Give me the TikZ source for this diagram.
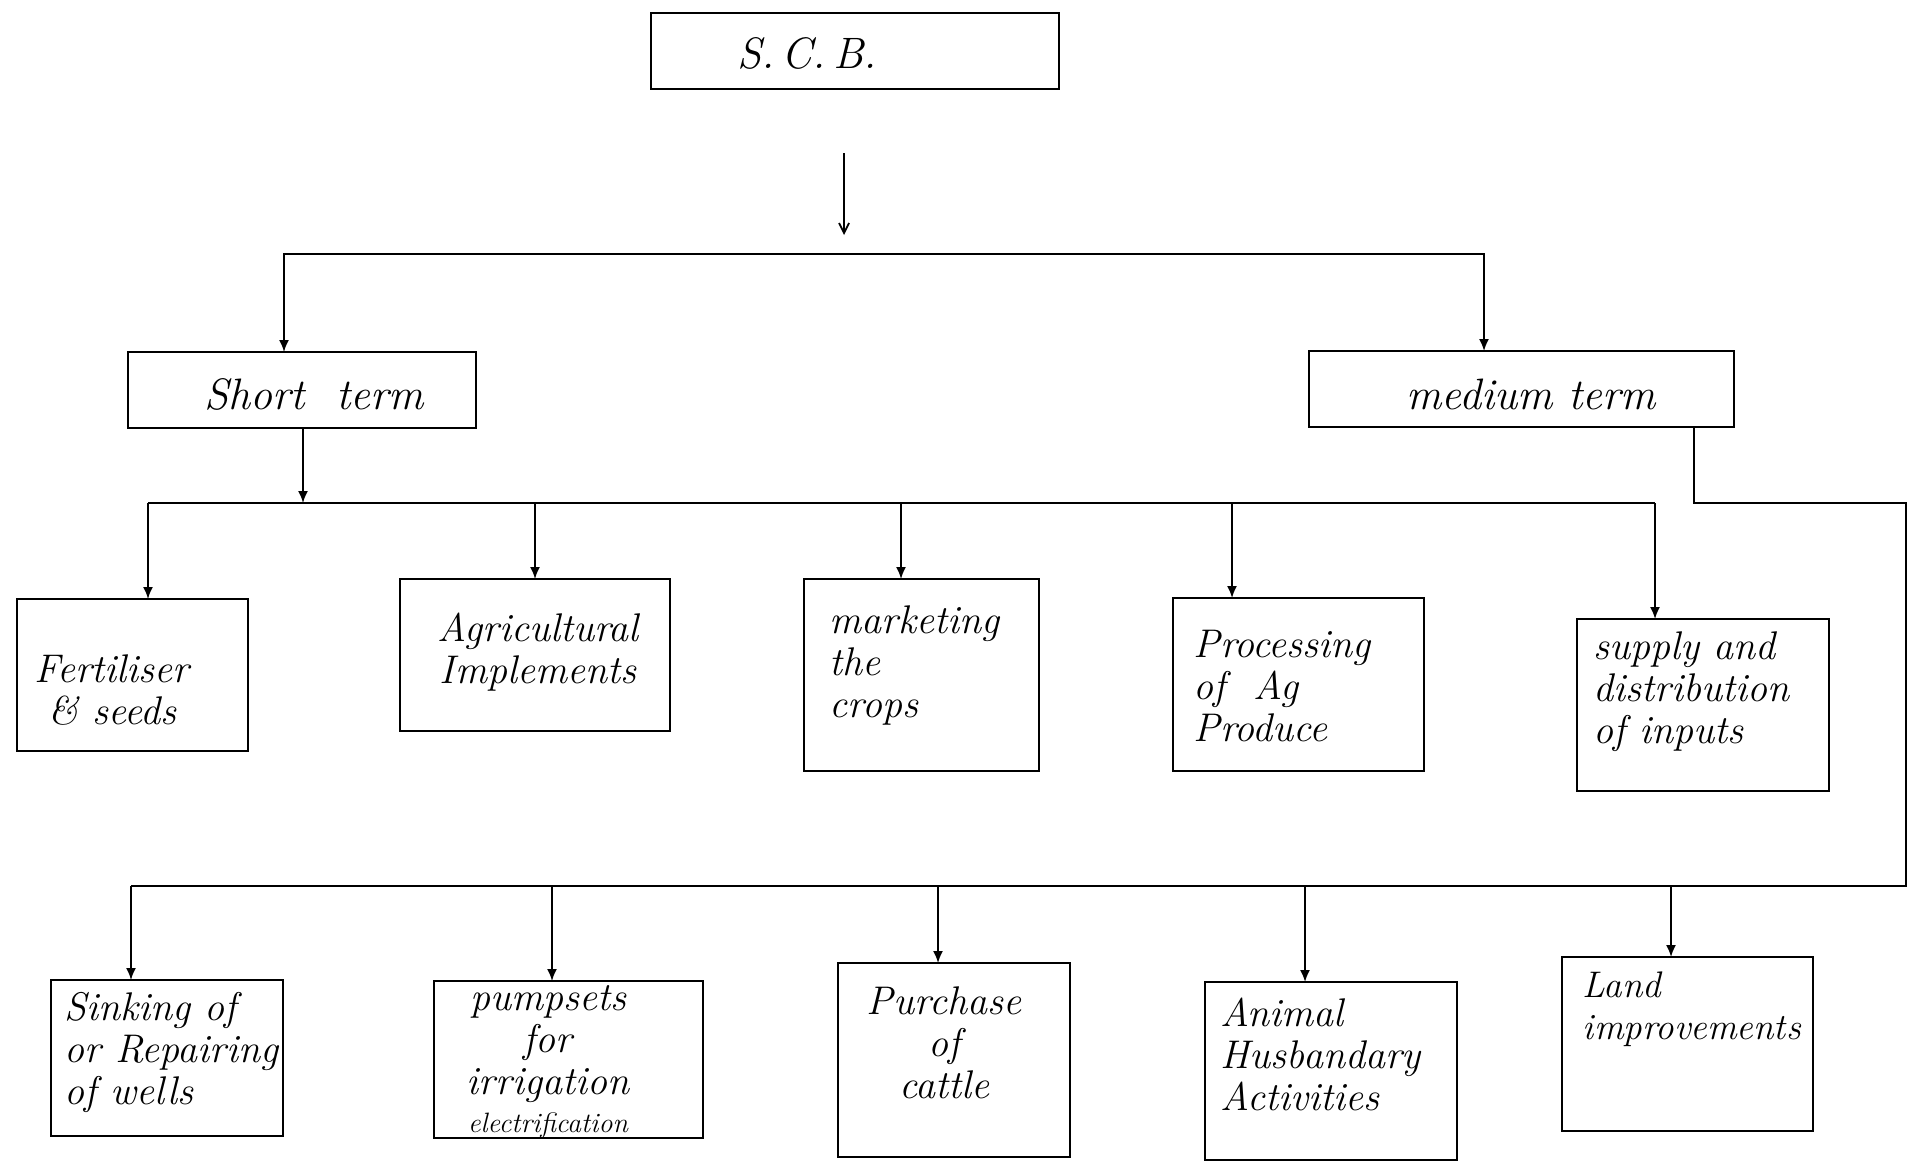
\documentclass[tikz,border=0pt]{standalone}
\usetikzlibrary{arrows.meta}
\begin{document}
\begin{tikzpicture}[x=0.5pt,y=-0.5pt,
  line width=0.9pt,
  box/.style={draw, anchor=north west, inner sep=0pt, outer sep=0pt},
  arr/.style={-{Latex[length=6pt,width=5pt]}},
  arrboth/.style={{Latex[length=6pt,width=5pt]}-{Latex[length=6pt,width=5pt]}},
  txt/.style={font=\fontsize{20}{21}\selectfont\itshape, inner sep=0pt},
  big/.style={font=\fontsize{22}{24}\selectfont\itshape, inner sep=0pt}]
\useasboundingbox[fill=white] (0,0) rectangle (1918,1169);

% boxes
\node[box, minimum width=204pt, minimum height=38pt] (scb) at (651,13) {};
\node[box, minimum width=174pt, minimum height=38pt] (short) at (128,352) {};
\node[box, minimum width=212.5pt, minimum height=38pt] (medium) at (1309,351) {};

\node[box, minimum width=115.5pt, minimum height=76pt] (fert) at (17,599) {};
\node[box, minimum width=135pt, minimum height=76pt] (agri) at (400,579) {};
\node[box, minimum width=117.5pt, minimum height=96pt] (mark) at (804,579) {};
\node[box, minimum width=125.5pt, minimum height=86.5pt] (proc) at (1173,598) {};
\node[box, minimum width=126pt, minimum height=86pt] (supp) at (1577,619) {};

\node[box, minimum width=116pt, minimum height=78pt] (sink) at (51,980) {};
\node[box, minimum width=134.5pt, minimum height=78.5pt] (pump) at (434,981) {};
\node[box, minimum width=116pt, minimum height=97pt] (purch) at (838,963) {};
\node[box, minimum width=126pt, minimum height=89pt] (anim) at (1205,982) {};
\node[box, minimum width=125.5pt, minimum height=87pt] (land) at (1562,957) {};

% texts
\node[big] (tscb) at (807,53) {S.\,C.\,B.};
\node[big] (tshort) at (314,394) {Short\ \ term};
\node[big] (tmed) at (1531,394) {medium term};

\node[txt, align=left, anchor=west] (tfert) at (34,690) {Fertiliser\\\ \& seeds};
\node[txt, align=center] (tagri) at (538,652) {Agricultural\\Implements};
\node[txt, align=left, anchor=west] (tmark) at (829,665) {marketing\\the\\crops};
\node[txt, align=left, anchor=west] (tproc) at (1193,686) {Processing\\of\ \ Ag\\Produce};
\node[txt, align=left, anchor=west] (tsupp) at (1593,692) {supply and\\distribution\\of inputs};

\node[txt, align=left, anchor=west] (tsink) at (64,1052) {Sinking of\\or Repairing\\of wells};
\node[txt, align=center] (tpump) at (548,1062) {pumpsets\\for\\irrigation\\[-2pt]{\fontsize{14}{14}\selectfont electrification}};
\node[txt, align=center] (tpurch) at (944,1043) {Purchase\\of\\cattle};
\node[txt, align=left, anchor=west] (tanim) at (1220,1054) {Animal\\Husbandary\\Activities};
\node[txt, align=left, anchor=west, font=\fontsize{18.5}{21}\selectfont\itshape] (tland) at (1582,1009) {Land\\improvements};

% top arrow
\coordinate (a0) at (844,153);
\coordinate (a1) at (844,235);
\draw[-{Straight Barb[length=5pt,width=5pt]}] (a0) -- (a1);

% level 1
\coordinate (j1) at (284,254);
\coordinate (j2) at (1484,254);
\draw[arrboth] (j1 |- short.north) -- (j1) -- (j2) -- (j2 |- medium.north);

% short term branch
\coordinate (s0) at (303,503);
\draw[arr] (s0 |- short.south) -- (s0);
\coordinate (h1) at (148,503);
\coordinate (h2) at (535,503);
\coordinate (h3) at (901,503);
\coordinate (h4) at (1232,503);
\coordinate (h5) at (1655,503);
\draw (h1) -- (h5);
\draw[arr] (h1) -- (h1 |- fert.north);
\draw[arr] (h2) -- (h2 |- agri.north);
\draw[arr] (h3) -- (h3 |- mark.north);
\draw[arr] (h4) -- (h4 |- proc.north);
\draw[arr] (h5) -- (h5 |- supp.north);

% medium term branch
\coordinate (m0) at (1694,503);
\coordinate (m1) at (1906,503);
\coordinate (m2) at (1906,886);
\coordinate (g1) at (131,886);
\coordinate (g2) at (552,886);
\coordinate (g3) at (938,886);
\coordinate (g4) at (1305,886);
\coordinate (g5) at (1671,886);
\draw (m0 |- medium.south) -- (m0) -- (m1) -- (m2) -- (g1);
\draw[arr] (g1) -- (g1 |- sink.north);
\draw[arr] (g2) -- (g2 |- pump.north);
\draw[arr] (g3) -- (g3 |- purch.north);
\draw[arr] (g4) -- (g4 |- anim.north);
\draw[arr] (g5) -- (g5 |- land.north);
\end{tikzpicture}
\end{document}
